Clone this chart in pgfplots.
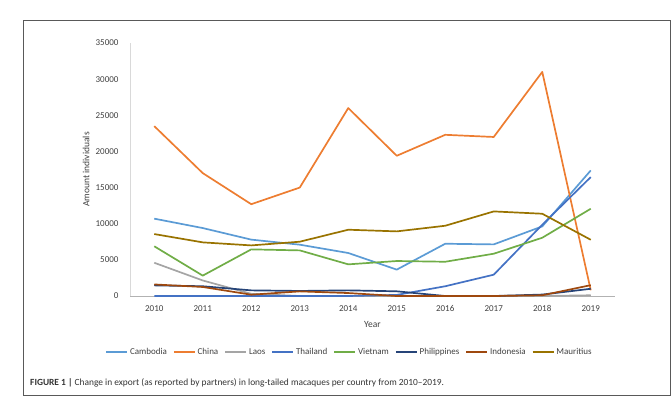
\documentclass[border=0pt]{standalone}
\usepackage{pgfplots}
\pgfplotsset{compat=1.18}
\usepackage{fontspec}
\setmainfont{Carlito}
\definecolor{cCam}{HTML}{5B9BD5}
\definecolor{cChi}{HTML}{ED7D31}
\definecolor{cLao}{HTML}{A5A5A5}
\definecolor{cTha}{HTML}{4472C4}
\definecolor{cVie}{HTML}{70AD47}
\definecolor{cPhi}{HTML}{264478}
\definecolor{cIndo}{HTML}{9E480E}
\definecolor{cMau}{HTML}{997300}
\definecolor{txt}{HTML}{404040}
\begin{document}
\begin{tikzpicture}
\path[use as bounding box] (0pt,0pt) rectangle (672pt,-399pt);
\draw[black!65, line width=0.9pt] (23pt,-20pt) rectangle (670.5pt,-395pt);
\begin{axis}[
  at={(130pt,-296pt)}, anchor=south west,
  scale only axis, width=485pt, height=253pt,
  xmin=2009.5, xmax=2019.5, ymin=0, ymax=35000,
  axis x line=bottom, axis y line=left,
  axis line style={-},
  x axis line style={draw=black!30, line width=0.8pt},
  y axis line style={draw=black!15, line width=0.8pt},
  xtick={2010,...,2019}, ytick={0,5000,...,35000},
  scaled ticks=false,
  major tick length=0pt,
  /pgf/number format/assume math mode=true,
  /pgf/number format/1000 sep={},
  xticklabel style={font=\fontsize{9}{10}\selectfont, text=txt, yshift=-6pt},
  yticklabel style={font=\fontsize{9}{10}\selectfont, text=txt, xshift=-8pt},
  xlabel={Year}, ylabel={Amount individuals},
  xlabel style={font=\fontsize{9.5}{10}\selectfont, text=txt, at={(axis description cs:0.5,-0.1107)}, anchor=center},
  ylabel style={font=\fontsize{9.5}{10}\selectfont, text=txt, at={(axis description cs:-0.0907,0.5)}, anchor=center},
  legend columns=8,
  legend style={draw=none, fill=none, font=\fontsize{9}{10}\selectfont, text=txt,
    at={(axis description cs:0.4526,-0.2213)}, anchor=center,
    /tikz/every even column/.append style={column sep=4pt}},
  legend image code/.code={\draw[#1] (0pt,0pt) -- (21pt,0pt);},
  every axis plot/.append style={line width=1.7pt, no markers, line join=round},
]
\addplot[cCam] coordinates {(2010,10700) (2011,9400) (2012,7800) (2013,7100) (2014,5950) (2015,3650) (2016,7230) (2017,7140) (2018,9630) (2019,17370)};
\addplot[cChi] coordinates {(2010,23500) (2011,17000) (2012,12700) (2013,15000) (2014,26000) (2015,19400) (2016,22300) (2017,22000) (2018,31000) (2019,800)};
\addplot[cLao] coordinates {(2010,4600) (2011,2150) (2012,300) (2013,0) (2014,0) (2015,0) (2016,0) (2017,0) (2018,0) (2019,100)};
\addplot[cTha] coordinates {(2010,0) (2011,0) (2012,0) (2013,0) (2014,0) (2015,150) (2016,1350) (2017,2950) (2018,9860) (2019,16450)};
\addplot[cVie] coordinates {(2010,6880) (2011,2820) (2012,6450) (2013,6310) (2014,4380) (2015,4840) (2016,4740) (2017,5850) (2018,8060) (2019,12070)};
\addplot[cPhi] coordinates {(2010,1470) (2011,1350) (2012,780) (2013,700) (2014,780) (2015,650) (2016,0) (2017,0) (2018,200) (2019,1000)};
\addplot[cIndo] coordinates {(2010,1600) (2011,1250) (2012,180) (2013,640) (2014,410) (2015,0) (2016,0) (2017,0) (2018,100) (2019,1500)};
\addplot[cMau] coordinates {(2010,8570) (2011,7420) (2012,7000) (2013,7510) (2014,9170) (2015,8940) (2016,9720) (2017,11700) (2018,11380) (2019,7780)};
\legend{Cambodia,China,Laos,Thailand,Vietnam,Philippines,Indonesia,Mauritius}
\end{axis}
\node[anchor=west, font=\fontsize{9.4}{11}\selectfont, text=black!80, inner sep=0pt] at (30pt,-383pt) {\textbf{FIGURE 1 |} Change in export (as reported by partners) in long-tailed macaques per country from 2010–2019.};
\end{tikzpicture}
\end{document}
